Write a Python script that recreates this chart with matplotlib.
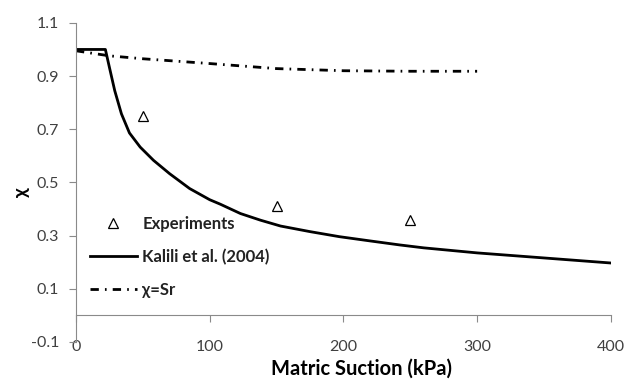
import numpy as np
import matplotlib.pyplot as plt

# data
exp_x = [50, 150, 250]
exp_y = [0.75, 0.41, 0.36]

kalili_x = [0, 22, 25, 29, 34, 40, 48, 58, 70, 85, 100, 108, 123, 138, 153,
            175, 197, 220, 242, 260, 300, 350, 400]
kalili_y = [1.0, 1.0, 0.933, 0.845, 0.758, 0.686, 0.633, 0.583, 0.533, 0.477, 0.435, 0.418, 0.383, 0.358, 0.336,
            0.315, 0.296, 0.280, 0.265, 0.254, 0.235, 0.216, 0.197]

sr_x = [0, 25, 50, 100, 150, 200, 250, 300]
sr_y = [0.995, 0.976, 0.965, 0.947, 0.928, 0.92, 0.918, 0.918]

x_ticks = [0, 100, 200, 300, 400]
y_ticks = [-0.1, 0.1, 0.3, 0.5, 0.7, 0.9, 1.1]

plt.rcParams['font.family'] = ['Lato', 'DejaVu Sans']

fig = plt.figure(figsize=(6.33, 3.81), dpi=100)
ax = fig.add_axes([0.120, 0.1024, 0.845, 0.8376])

ax.plot(exp_x, exp_y, linestyle='none', marker='^', markersize=6.5,
        markerfacecolor='white', markeredgecolor='black', markeredgewidth=0.9,
        label='Experiments')
ax.plot(kalili_x, kalili_y, color='black', lw=2, label='Kalili et al. (2004)')
ax.plot(sr_x, sr_y, color='black', lw=2, dashes=(3, 2.2, 0.6, 2.2), label='χ=Sr')

ax.set_xlim(0, 400)
ax.set_ylim(-0.1, 1.1)
ax.set_xticks(x_ticks)
ax.set_yticks(y_ticks)
ax.set_yticklabels(['-0.1', '0.1', '0.3', '0.5', '0.7', '0.9', '1.1'])

for s in ['top', 'right']:
    ax.spines[s].set_visible(False)
ax.spines['bottom'].set_position(('data', 0))
ax.spines['bottom'].set_color('#8a8a8a')
ax.spines['left'].set_color('#8a8a8a')
ax.tick_params(axis='both', colors='#8a8a8a', labelcolor='#404040', labelsize=11.5,
               direction='out', length=5)
ax.tick_params(axis='y', pad=7)
ax.tick_params(axis='x', pad=13)

ax.set_xlabel('Matric Suction (kPa)', fontsize=14.5, fontweight='bold', va='top')
ax.xaxis.set_label_coords(0.533, -0.052)
ax.set_ylabel('χ', fontsize=14, fontweight='bold')
ax.yaxis.set_label_coords(-0.086, 0.47)

leg = ax.legend(loc='upper left', bbox_to_anchor=(0.026, 0.395), frameon=False,
                borderpad=0, borderaxespad=0, handlelength=2.8, handletextpad=0.35,
                labelspacing=1.0, prop={'weight': 'bold', 'size': 12})
for t in leg.get_texts():
    t.set_color('#222222')

fig.savefig('out.png', dpi=100)
